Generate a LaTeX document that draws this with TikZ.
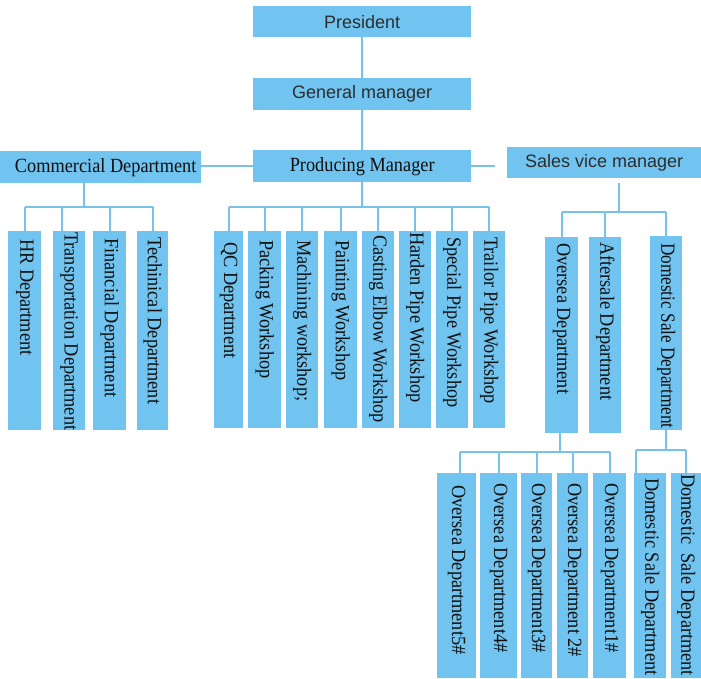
\documentclass[tikz,border=0pt]{standalone}
\usepackage{graphicx}
\usepackage{fontspec}
\setmainfont{Liberation Serif}
\newfontfamily\sansf{Liberation Sans}
\newcommand{\vs}[1]{\scalebox{1}[1.1]{#1}}
\definecolor{boxblue}{RGB}{113,196,239}
\definecolor{lineblue}{RGB}{120,194,234}
\definecolor{sanstext}{RGB}{45,45,45}
\definecolor{sertext}{RGB}{15,15,15}
\tikzset{
  box/.style={fill=boxblue,draw=none,inner sep=0pt,anchor=north west},
  topsans/.style={box,font=\sansf\fontsize{18}{20}\selectfont,text=sanstext},
  topserif/.style={box,font=\fontsize{18.3}{20}\selectfont,text=sertext},
  vt/.style={rotate=-90,anchor=west,inner sep=0pt,font=\fontsize{18.3}{20}\selectfont,text=sertext},
  conn/.style={draw=lineblue,line width=2.4pt}
}
\begin{document}
\begin{tikzpicture}[x=1pt,y=-1pt]
\useasboundingbox (0,0) rectangle (701,678);
\fill[white] (0,0) rectangle (701,678);
% top level
\node[topsans,minimum width=218pt,minimum height=31pt] (pres) at (253,6) {President};
\node[topsans,minimum width=218pt,minimum height=32pt] (gm) at (253,78) {General manager};
\node[topserif,minimum width=218pt,minimum height=32pt] (pm) at (253,150) {\vs{Producing Manager}};
\node[topserif,minimum width=201pt,minimum height=32pt] (com) at (0,151) {\hspace*{10pt}\vs{Commercial Department}};
\node[topsans,minimum width=194pt,minimum height=31pt] (svm) at (507,147) {Sales vice manager};
% commercial children
\node[box,minimum width=33pt,minimum height=199pt] (hr) at (8,231) {};
\node[box,minimum width=32pt,minimum height=199pt] (trans) at (53,231) {};
\node[box,minimum width=33pt,minimum height=199pt] (fin) at (93,231) {};
\node[box,minimum width=31pt,minimum height=199pt] (tech) at (137,231) {};
% producing children
\node[box,minimum width=29pt,minimum height=197pt] (qc) at (214,231) {};
\node[box,minimum width=33pt,minimum height=197pt] (pack) at (248,231) {};
\node[box,minimum width=32pt,minimum height=197pt] (mach) at (286,231) {};
\node[box,minimum width=33pt,minimum height=197pt] (paint) at (324,231) {};
\node[box,minimum width=32pt,minimum height=197pt] (cast) at (362,231) {};
\node[box,minimum width=32pt,minimum height=197pt] (hard) at (399,231) {};
\node[box,minimum width=32pt,minimum height=197pt] (spec) at (436,231) {};
\node[box,minimum width=32pt,minimum height=197pt] (trail) at (473,231) {};
% sales children
\node[box,minimum width=33pt,minimum height=196pt] (ov) at (545,237) {};
\node[box,minimum width=32pt,minimum height=196pt] (aft) at (589,237) {};
\node[box,minimum width=32pt,minimum height=194pt] (dom) at (650,236) {};
% bottom
\node[box,minimum width=39pt,minimum height=205pt] (o5) at (437,473) {};
\node[box,minimum width=37pt,minimum height=205pt] (o4) at (480,473) {};
\node[box,minimum width=31pt,minimum height=205pt] (o3) at (521,473) {};
\node[box,minimum width=31pt,minimum height=205pt] (o2) at (557,473) {};
\node[box,minimum width=33pt,minimum height=205pt] (o1) at (593,473) {};
\node[box,minimum width=32pt,minimum height=205pt] (ds1) at (634,473) {};
\node[box,minimum width=30pt,minimum height=205pt] (ds2) at (671,473) {};
% vertical texts
\node[vt] (thr) at ([yshift=-8pt]hr.north) {\vs{HR Department}};
\node[vt] (ttr) at ([yshift=-1pt]trans.north) {\vs{Transportation Department}};
\node[vt] (tfi) at ([yshift=-7pt]fin.north) {\vs{Financial Department}};
\node[vt] (tte) at ([yshift=-6pt]tech.north) {\vs{Techinical Department}};
\node[vt] (tqc) at ([yshift=-11pt]qc.north) {\vs{QC Department}};
\node[vt] (tpa) at ([yshift=-9pt]pack.north) {\vs{Packing Workshop}};
\node[vt] (tma) at ([yshift=-9pt]mach.north) {\vs{Machining workshop;}};
\node[vt] (tpn) at ([yshift=-9pt]paint.north) {\vs{Painting Workshop}};
\node[vt] (tca) at ([yshift=-4pt]cast.north) {\vs{Casting Elbow Workshop}};
\node[vt] (tha) at ([yshift=-1pt]hard.north) {\vs{Harden Pipe Workshop}};
\node[vt] (tsp) at ([yshift=-6pt]spec.north) {\vs{Special Pipe Workshop}};
\node[vt] (ttp) at ([yshift=-6pt]trail.north) {\vs{Trailor Pipe Workshop}};
\node[vt] (tov) at ([yshift=-6pt]ov.north) {\vs{Oversea Department}};
\node[vt] (taf) at ([yshift=-5pt]aft.north) {\vs{Aftersale Department}};
\node[vt] (tdo) at ([yshift=-7pt]dom.north) {\scalebox{0.94}[1.1]{Domestic Sale Department}};
\node[vt] (to5) at ([yshift=-12pt]o5.north) {\vs{Oversea Department5\#}};
\node[vt] (to4) at ([yshift=-10pt]o4.north) {\vs{Oversea Department4\#}};
\node[vt] (to3) at ([yshift=-10pt]o3.north) {\vs{Oversea Department3\#}};
\node[vt] (to2) at ([yshift=-10pt]o2.north) {\vs{Oversea Department 2\#}};
\node[vt] (to1) at ([yshift=-10pt]o1.north) {\vs{Oversea Department1\#}};
\node[vt] (tds1) at ([yshift=-5pt]ds1.north) {\vs{Domestic Sale Department}};
\node[vt] (tds2) at ([yshift=-1pt]ds2.north) {\vs{Domestic\ \ Sale Department}};
% top connectors
\draw[conn] (pres.south) -- (gm.north);
\draw[conn] (gm.south) -- (pm.north);
\draw[conn] (com.east |- pm.west) -- (pm.west);
\draw[conn] (pm.east) -- ([xshift=-12pt]pm.east -| svm.west);
% commercial bus
\coordinate (cb) at (84,207);
\draw[conn] (cb |- com.south) -- (cb);
\draw[conn] (hr.north |- cb) -- (tech.north |- cb);
\foreach \n in {hr,fin,tech} \draw[conn] (\n.north) -- (\n.north |- cb);
\draw[conn] ([xshift=-7pt]trans.north) -- ([xshift=-7pt]trans.north |- cb);
% producing bus
\coordinate (mb) at (362,207);
\draw[conn] (pm.south) -- (pm.south |- mb);
\draw[conn] (qc.north |- mb) -- (trail.north |- mb);
\foreach \n in {qc,pack,mach,paint,cast,hard,spec,trail} \draw[conn] (\n.north) -- (\n.north |- mb);
% sales bus
\coordinate (sb) at (619,212);
\draw[conn] ([yshift=-5pt]sb |- svm.south) -- (sb);
\draw[conn] (ov.north |- sb) -- (dom.north |- sb);
\foreach \n in {ov,aft,dom} \draw[conn] (\n.north) -- (\n.north |- sb);
% oversea bus
\coordinate (ob) at (560,452);
\draw[conn] (ob |- ov.south) -- (ob);
\draw[conn] ([xshift=3.5pt]o5.north |- ob) -- (o1.north |- ob);
\draw[conn] ([xshift=3.5pt]o5.north) -- ([xshift=3.5pt]o5.north |- ob);
\foreach \n in {o4,o3,o2,o1} \draw[conn] (\n.north) -- (\n.north |- ob);
% domestic bus
\coordinate (db) at (666,450);
\draw[conn] (db |- dom.south) -- (db);
\draw[conn] ([xshift=-14pt]ds1.north |- db) -- (ds2.north |- db);
\draw[conn] ([xshift=-14pt]ds1.north) -- ([xshift=-14pt]ds1.north |- db);
\draw[conn] (ds2.north) -- (ds2.north |- db);
\end{tikzpicture}
\end{document}
